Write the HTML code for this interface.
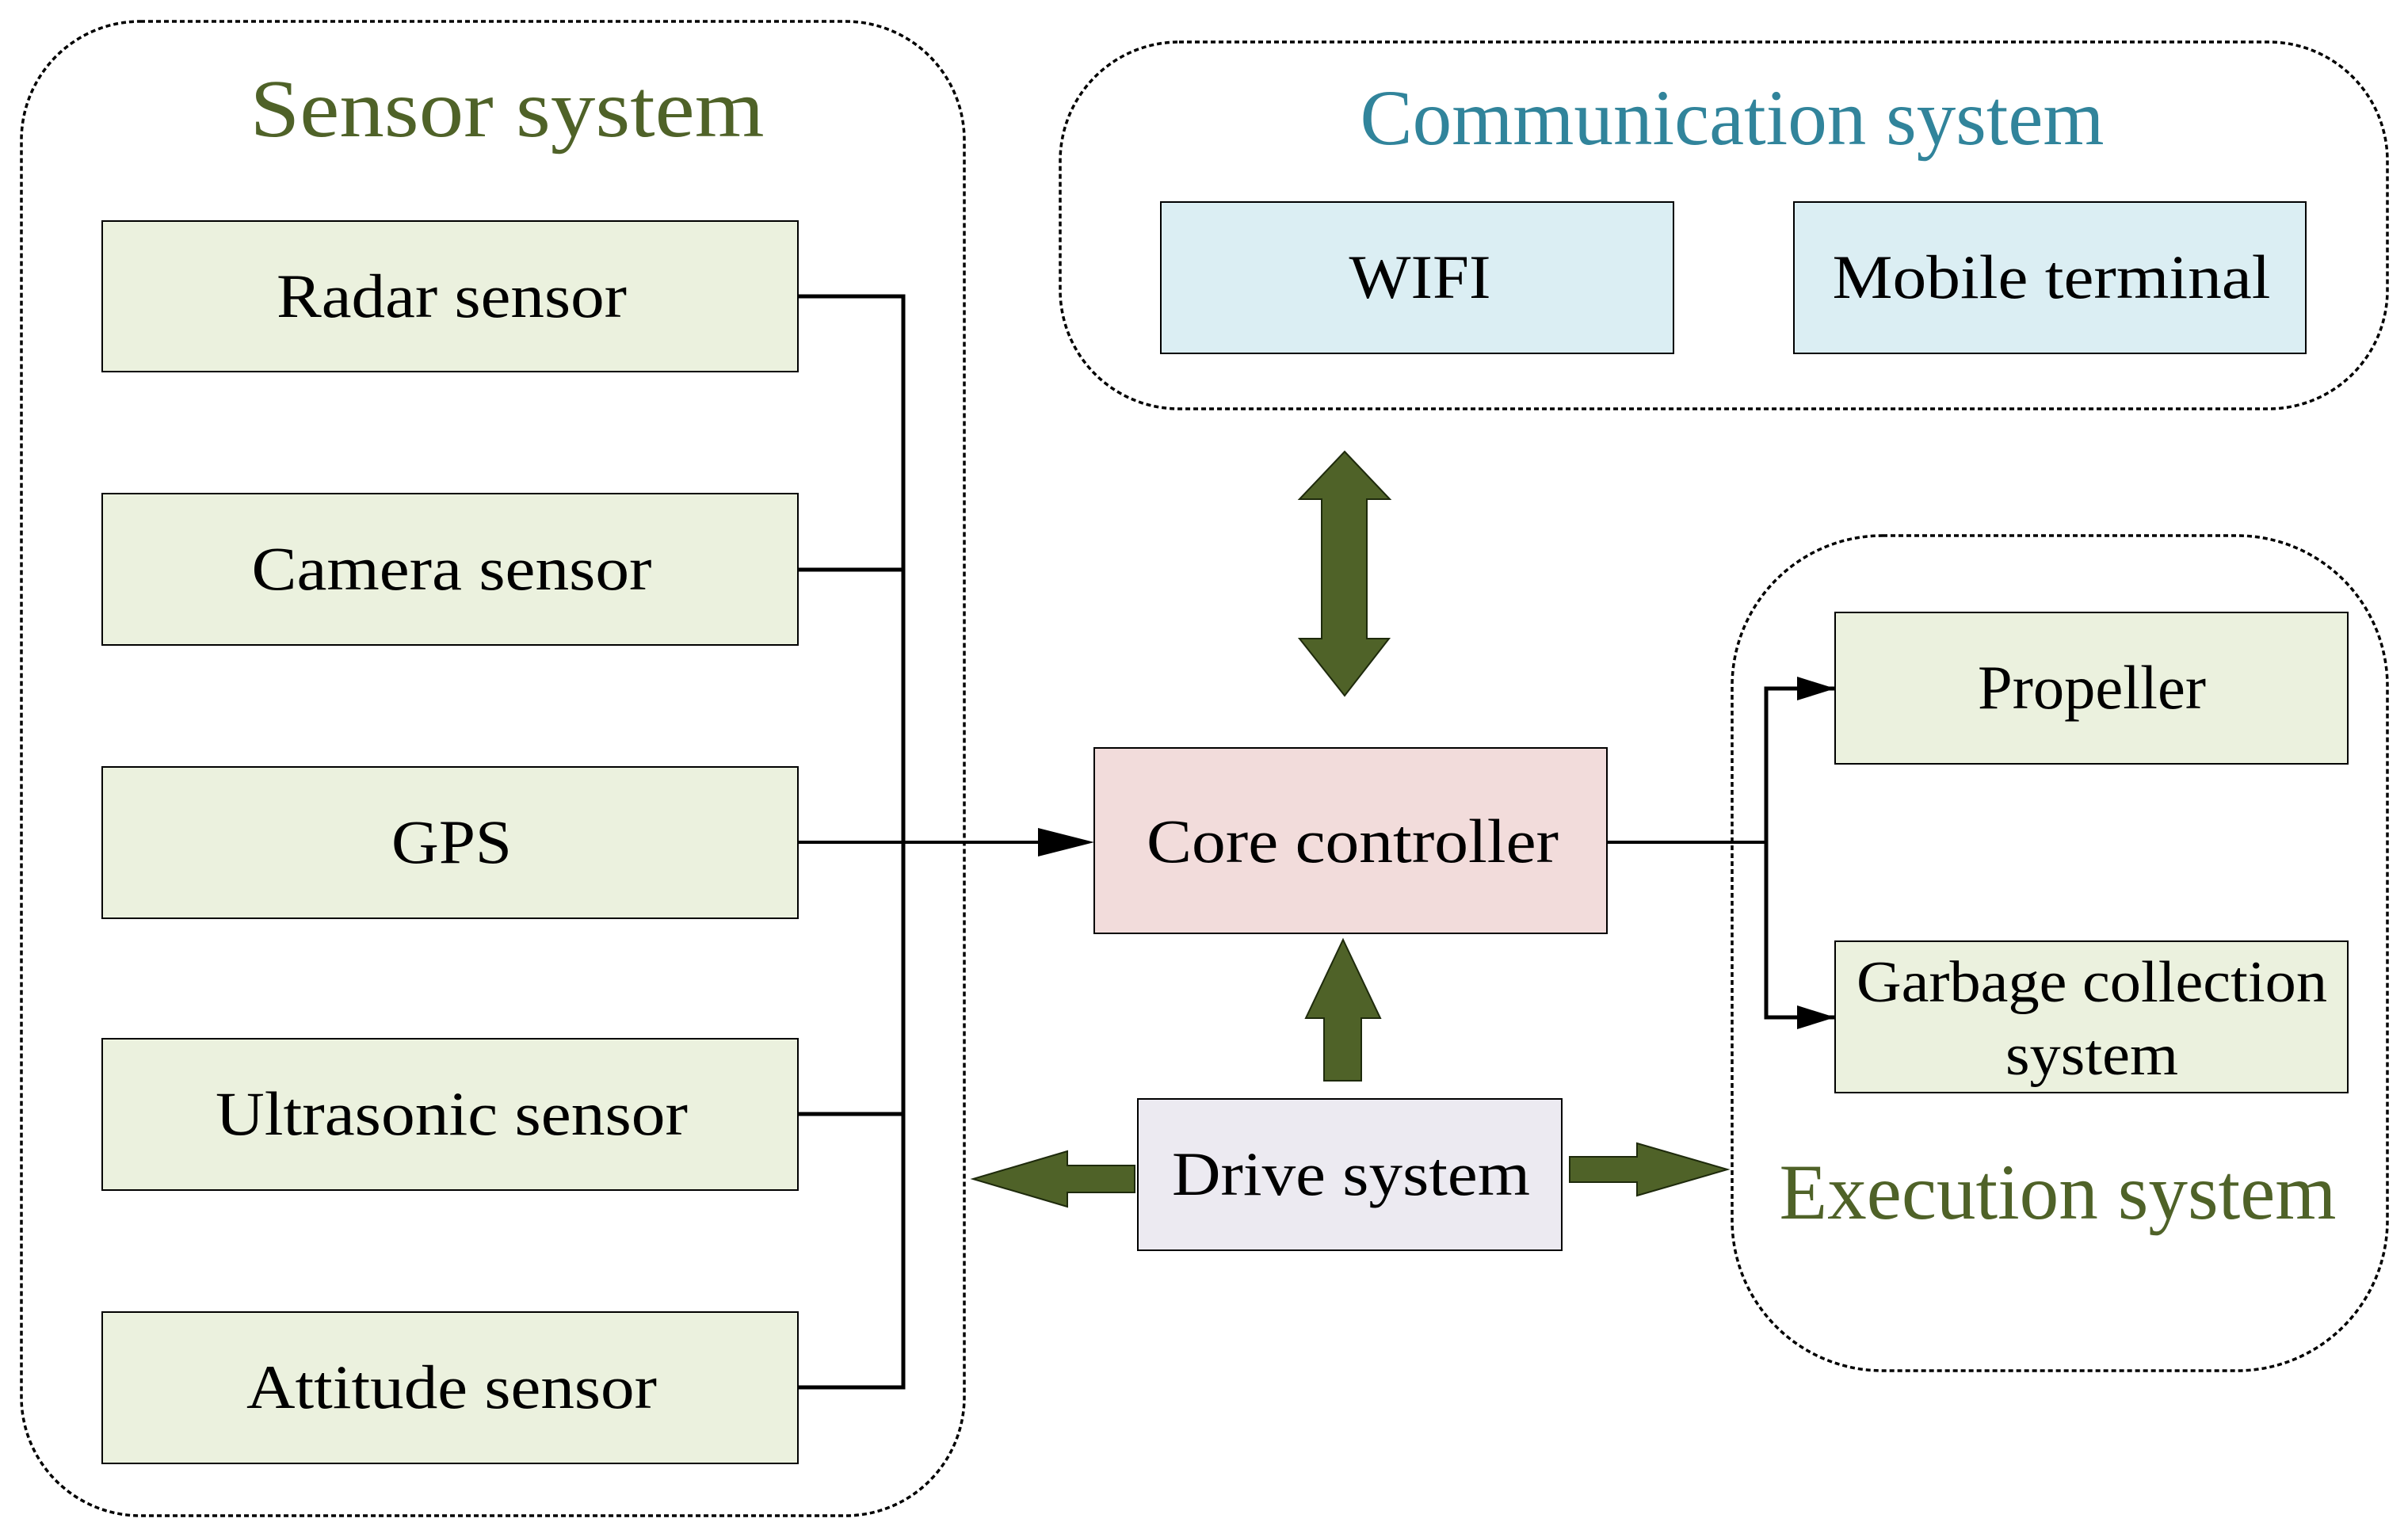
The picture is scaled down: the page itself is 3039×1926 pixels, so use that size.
<!DOCTYPE html>
<html><head><meta charset="utf-8"><style>html,body{margin:0;padding:0;background:#fff}svg{display:block}</style></head>
<body>
<svg width="3039" height="1926" viewBox="0 0 3039 1926" xmlns="http://www.w3.org/2000/svg" font-family="'Liberation Serif', serif">
<g fill="none" stroke="#000" stroke-width="3.5" stroke-dasharray="6,4">
<rect x="27" y="27" width="1190" height="1886" rx="150" ry="150"/>
<rect x="1338" y="53" width="1675" height="463" rx="150" ry="150"/>
<rect x="2186" y="676" width="827" height="1054" rx="190" ry="190"/>
</g>
<g lengthAdjust="spacingAndGlyphs" text-anchor="middle">
<text x="640" y="172" font-size="104" fill="#4f6228" textLength="649" lengthAdjust="spacingAndGlyphs">Sensor system</text>
<text x="2186" y="182" font-size="100" fill="#31849b" textLength="939" lengthAdjust="spacingAndGlyphs">Communication system</text>
<text x="2597" y="1538" font-size="100" fill="#4f6228" textLength="703" lengthAdjust="spacingAndGlyphs">Execution system</text>
</g>
<g fill="#ebf1de" stroke="#000" stroke-width="2">
<rect x="129" y="279" width="878" height="190"/>
<rect x="129" y="623" width="878" height="191"/>
<rect x="129" y="968" width="878" height="191"/>
<rect x="129" y="1311" width="878" height="191"/>
<rect x="129" y="1656" width="878" height="191"/>
<rect x="2316" y="773" width="647" height="191"/>
<rect x="2316" y="1188" width="647" height="191"/>
</g>
<g fill="#dbeef3" stroke="#000" stroke-width="2">
<rect x="1465" y="255" width="647" height="191"/>
<rect x="2264" y="255" width="646" height="191"/>
</g>
<rect x="1381" y="944" width="647" height="234" fill="#f2dcdb" stroke="#000" stroke-width="2"/>
<rect x="1436" y="1387" width="535" height="191" fill="#ecEaf1" stroke="#000" stroke-width="2"/>
<g font-size="78" fill="#000" text-anchor="middle">
<text x="570" y="400" textLength="442" lengthAdjust="spacingAndGlyphs">Radar sensor</text>
<text x="570" y="744" textLength="505" lengthAdjust="spacingAndGlyphs">Camera sensor</text>
<text x="570" y="1089" textLength="152" lengthAdjust="spacingAndGlyphs">GPS</text>
<text x="570" y="1432" textLength="596" lengthAdjust="spacingAndGlyphs">Ultrasonic sensor</text>
<text x="570" y="1777" textLength="518" lengthAdjust="spacingAndGlyphs">Attitude sensor</text>
<text x="1792" y="376" textLength="179" lengthAdjust="spacingAndGlyphs">WIFI</text>
<text x="2589" y="376" textLength="553" lengthAdjust="spacingAndGlyphs">Mobile terminal</text>
<text x="1707" y="1088" textLength="520" lengthAdjust="spacingAndGlyphs">Core controller</text>
<text x="1705" y="1508" textLength="452" lengthAdjust="spacingAndGlyphs">Drive system</text>
<text x="2640" y="894" textLength="288" lengthAdjust="spacingAndGlyphs">Propeller</text>
<text x="2640" y="1264" font-size="74" textLength="594" lengthAdjust="spacingAndGlyphs">Garbage collection</text>
<text x="2640" y="1356" font-size="74" textLength="218" lengthAdjust="spacingAndGlyphs">system</text>
</g>
<g stroke="#000" stroke-width="5" fill="none">
<polyline points="1007,374 1140,374 1140,1751 1007,1751"/>
<line x1="1007" y1="719" x2="1140" y2="719"/>
<line x1="1007" y1="1406" x2="1140" y2="1406"/>
</g>
<line x1="1007" y1="1063" x2="1320" y2="1063" stroke="#000" stroke-width="4"/>
<path d="M1310,1045 L1381,1063 L1310,1081 z" fill="#000"/>
<line x1="2028" y1="1063" x2="2229" y2="1063" stroke="#000" stroke-width="4"/>
<polyline points="2316,869 2229,869 2229,1284 2316,1284" fill="none" stroke="#000" stroke-width="5"/>
<path d="M2268,854 L2316,869 L2268,884 z" fill="#000"/>
<path d="M2268,1269 L2316,1284 L2268,1299 z" fill="#000"/>
<g fill="#4f6228" stroke="#1e2a0c" stroke-width="2">
<path d="M1697,570 L1754,630 L1725,630 L1725,806 L1753,806 L1697,878 L1640,806 L1668,806 L1668,630 L1640,630 z"/>
<path d="M1695,1186 L1742,1285 L1718,1285 L1718,1364 L1671,1364 L1671,1285 L1648,1285 z"/>
<path d="M1981,1460 L2066,1460 L2066,1443 L2180,1476 L2066,1509 L2066,1492 L1981,1492 z"/>
<path d="M1432,1471 L1347,1471 L1347,1453 L1228,1488 L1347,1523 L1347,1505 L1432,1505 z"/>
</g>
</svg>
</body></html>
